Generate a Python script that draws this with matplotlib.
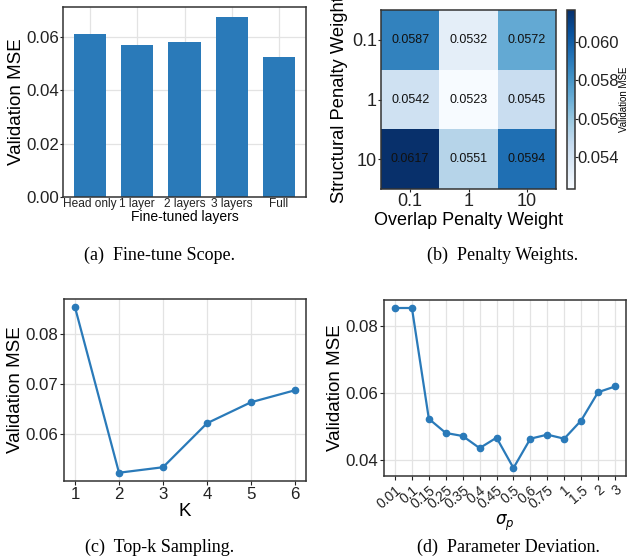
import matplotlib
matplotlib.use('Agg')
import matplotlib.pyplot as plt
import numpy as np

plt.rcParams.update({
    'font.family': ['Liberation Sans', 'DejaVu Sans'],
    'mathtext.fontset': 'dejavusans',
    'axes.edgecolor': '#333333',
    'axes.linewidth': 1.1,
    'xtick.color': '#222222',
    'ytick.color': '#222222',
    'xtick.major.size': 3,
    'ytick.major.size': 3,
    'xtick.major.width': 0.8,
    'ytick.major.width': 0.8,
    'grid.color': '#e3e3e3',
    'grid.linewidth': 0.9,
})

BLUE = '#2a7ab9'

# (a) fine-tune scope
scope_labels = ['Head only', '1 layer', '2 layers', '3 layers', 'Full']
scope_mse = [0.0610, 0.0569, 0.0580, 0.0674, 0.0524]

# (b) penalty weights
overlap_w = ['0.1', '1', '10']
struct_w = ['0.1', '1', '10']
penalty_mse = np.array([
    [0.0587, 0.0532, 0.0572],
    [0.0542, 0.0523, 0.0545],
    [0.0617, 0.0551, 0.0594],
])

# (c) top-k sampling
k_vals = [1, 2, 3, 4, 5, 6]
k_mse = [0.0854, 0.0523, 0.0534, 0.0622, 0.0664, 0.0688]

# (d) parameter deviation
sigma_labels = ['0.01', '0.1', '0.15', '0.25', '0.35', '0.4', '0.45', '0.5',
                '0.6', '0.75', '1', '1.5', '2', '3']
sigma_mse = [0.0852, 0.0852, 0.0523, 0.0481, 0.0472, 0.0436, 0.0467, 0.0377,
             0.0464, 0.0476, 0.0464, 0.0518, 0.0602, 0.0619]

W, H = 630, 560
fig = plt.figure(figsize=(W / 100, H / 100), dpi=100)


def box(left, top, right, bottom):
    return [left / W, 1 - bottom / H, (right - left) / W, (bottom - top) / H]


def caption(x, y, text):
    fig.text(x / W, 1 - y / H, text, ha='center', va='center',
             fontsize=13, family='Liberation Serif')


# ---- (a) bars
ax = fig.add_axes(box(63, 7, 306, 197))
ax.set_axisbelow(True)
ax.grid(True)
x = np.arange(len(scope_labels))
ax.bar(x, scope_mse, width=0.68, color=BLUE, zorder=2)
ax.set_xticks(x)
ax.set_xticklabels(scope_labels, fontsize=8.6)
ax.tick_params(axis='x', length=0, pad=1)
ax.tick_params(axis='y', labelsize=12.2, pad=1, length=2)
ax.set_ylim(0, 0.0712)
ax.set_yticks([0, 0.02, 0.04, 0.06])
ax.set_yticklabels(['0.00', '0.02', '0.04', '0.06'])
ax.set_xlabel('Fine-tuned layers', fontsize=10, labelpad=0)
ax.set_ylabel('Validation MSE', fontsize=13.5, labelpad=1)
caption(160, 255, '(a)  Fine-tune Scope.')

# ---- (b) heatmap
ax = fig.add_axes(box(381, 10, 556, 189))
vmin, vmax = penalty_mse.min(), penalty_mse.max()
im = ax.imshow(penalty_mse, cmap='Blues', vmin=vmin, vmax=vmax, aspect='auto')
for i in range(penalty_mse.shape[0]):
    for j in range(penalty_mse.shape[1]):
        ax.text(j, i, f'{penalty_mse[i, j]:.4f}', ha='center', va='center',
                fontsize=9, color='#111111')
ax.set_xticks(range(len(overlap_w)))
ax.set_xticklabels(overlap_w)
ax.set_yticks(range(len(struct_w)))
ax.set_yticklabels(struct_w)
ax.tick_params(labelsize=13, pad=1, length=2)
ax.set_xlabel('Overlap Penalty Weight', fontsize=13, labelpad=1)
ax.set_ylabel('Structural Penalty Weight', fontsize=13.2, labelpad=3)
cax = fig.add_axes(box(567, 10, 575, 189))
cb = fig.colorbar(im, cax=cax)
cb.set_ticks([0.054, 0.056, 0.058, 0.060])
cb.ax.set_yticklabels(['0.054', '0.056', '0.058', '0.060'])
cb.ax.tick_params(labelsize=12, length=2, pad=0)
cb.outline.set_edgecolor('#333333')
cb.set_label('Validation MSE', fontsize=7, labelpad=0)
caption(503, 255, '(b)  Penalty Weights.')

# ---- (c) top-k
ax = fig.add_axes(box(64, 299, 306, 481))
ax.grid(True)
ax.plot(k_vals, k_mse, color=BLUE, lw=1.6, marker='o', ms=4.5)
ax.set_xticks(k_vals)
ax.set_yticks([0.06, 0.07, 0.08])
ax.tick_params(labelsize=12.2, pad=1)
ax.set_xlabel('K', fontsize=13.5, labelpad=1)
ax.set_ylabel('Validation MSE', fontsize=13.5, labelpad=1)
caption(160, 547, '(c)  Top-k Sampling.')

# ---- (d) sigma_p
ax = fig.add_axes(box(384, 300, 626, 476))
ax.grid(True)
xs = np.arange(len(sigma_labels))
ax.plot(xs, sigma_mse, color=BLUE, lw=1.6, marker='o', ms=4.5)
ax.set_xticks(xs)
ax.set_xticklabels(sigma_labels, rotation=40, ha='right',
                   rotation_mode='anchor', fontsize=10)
ax.set_yticks([0.04, 0.06, 0.08])
ax.tick_params(axis='y', labelsize=12.2, pad=1)
ax.tick_params(axis='x', pad=2)
ax.set_xlabel(r'$\sigma_p$', fontsize=12, labelpad=1)
ax.set_ylabel('Validation MSE', fontsize=13.5, labelpad=1)
caption(508, 547, '(d)  Parameter Deviation.')

fig.savefig('out.png', dpi=100)
